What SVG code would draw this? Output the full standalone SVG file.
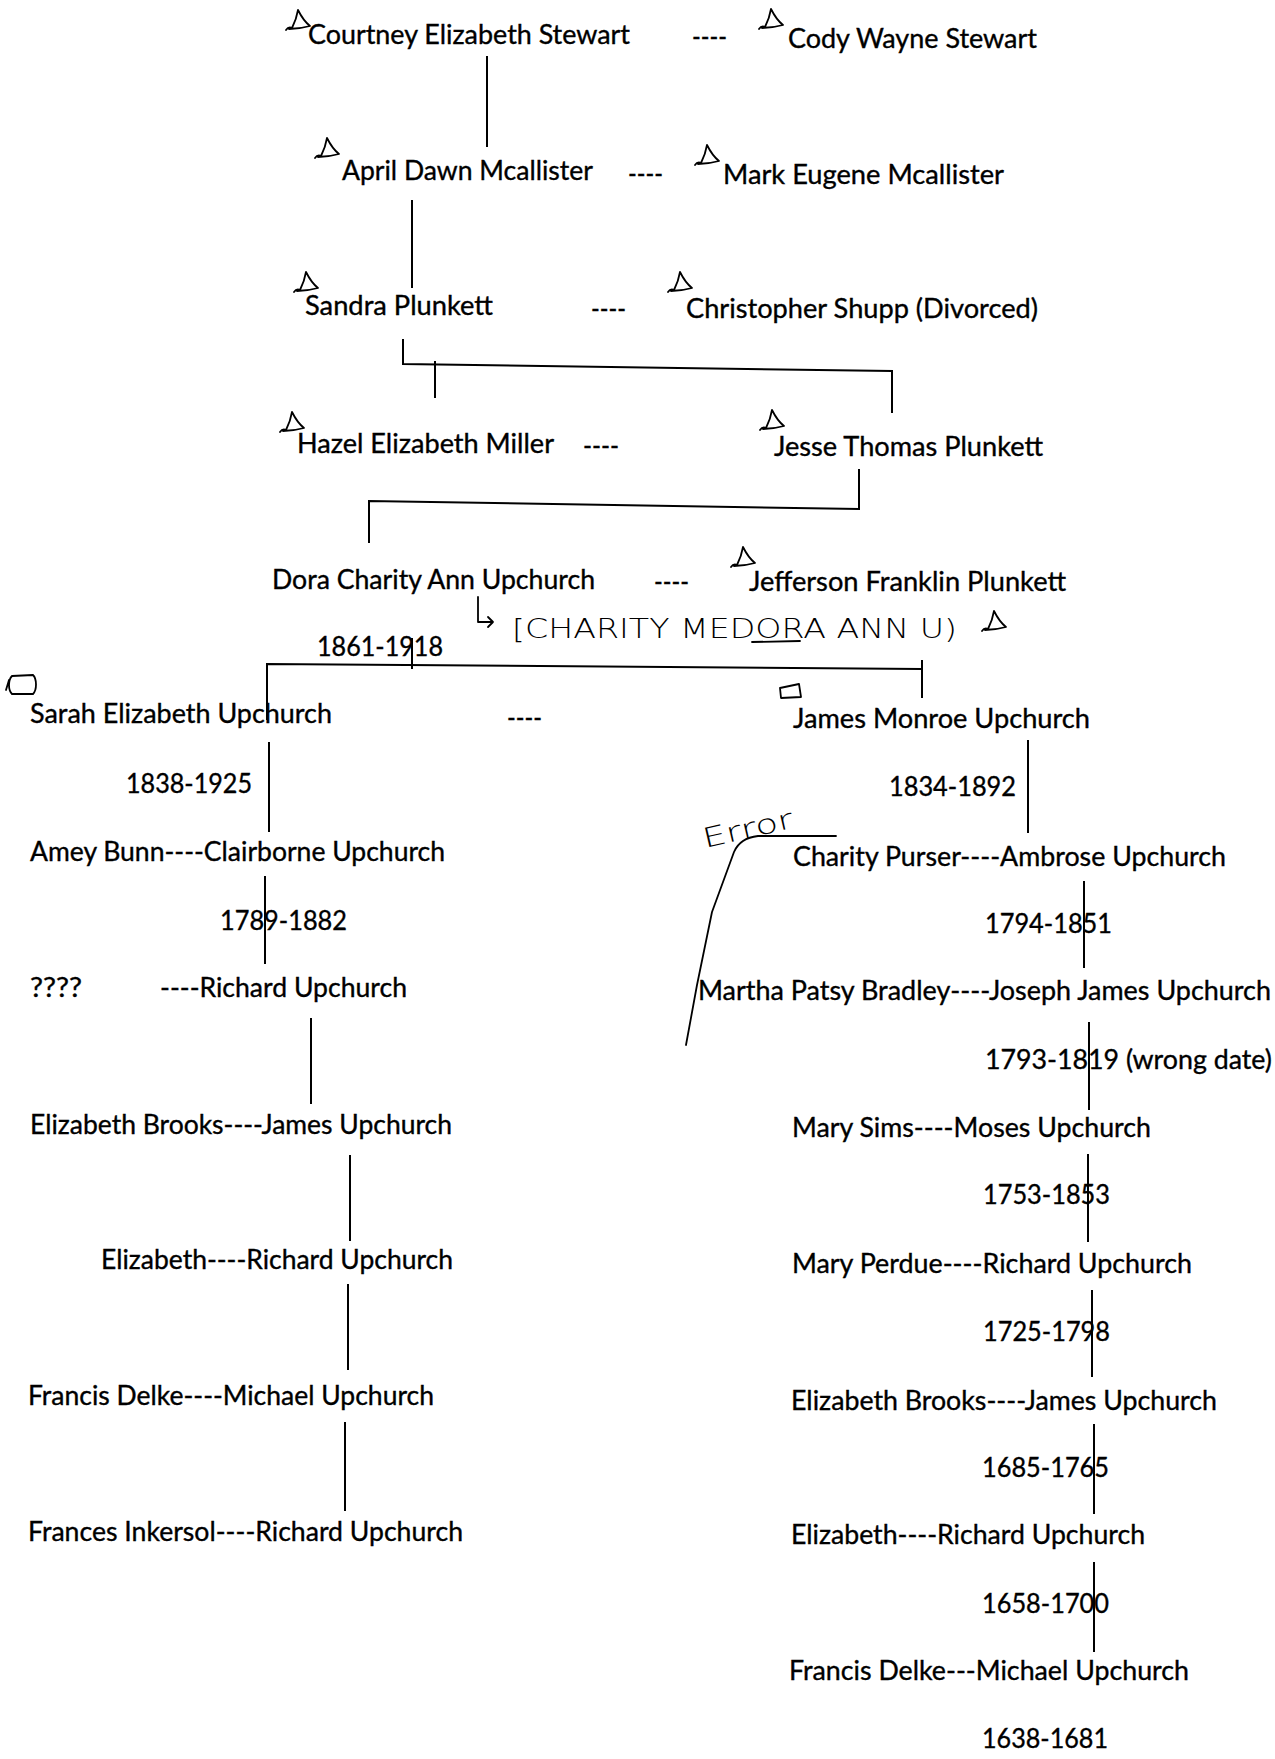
<svg xmlns="http://www.w3.org/2000/svg" width="1275" height="1759" viewBox="0 0 1275 1759">
<style>
text{font-family:Lato,"Open Sans","Liberation Sans",sans-serif;font-size:26px;fill:#000;stroke:#000;stroke-width:0.35}
.hw{font-family:"DejaVu Sans","Liberation Sans",sans-serif;font-weight:200;font-size:27px;stroke:none}
.ln{stroke:#000;stroke-width:2;fill:none}
.ink{stroke:#000;stroke-width:1.8;fill:none;stroke-linecap:round;stroke-linejoin:round}
</style>
<defs>
<path id="tri" class="ink" d="M0 20 C2 17 4 17 6 18 C9 12 11 6 12 0 C15 6 19 12 24 16 C17 18 10 19 3 19"/>
</defs>
<rect width="1275" height="1759" fill="#fff"/>

<g id="connectors">
<path class="ln" d="M487 56 V147"/>
<path class="ln" d="M412 200 V288"/>
<path class="ln" d="M403 339 V364 L892 371 V413"/>
<path class="ln" d="M435 361 V398"/>
<path class="ln" d="M859 469 V509 L369 501 V543"/>
<path class="ln" d="M267 720 V664 L922 669"/>
<path class="ln" d="M922 660 V698"/>
<path class="ln" d="M412 638 V669"/>
<path class="ln" d="M269 742 V832"/>
<path class="ln" d="M265 876 V964"/>
<path class="ln" d="M311 1018 V1104"/>
<path class="ln" d="M350 1155 V1241"/>
<path class="ln" d="M348 1284 V1370"/>
<path class="ln" d="M345 1422 V1511"/>
<path class="ln" d="M1028 740 V833"/>
<path class="ln" d="M1084 881 V968"/>
<path class="ln" d="M1089 1022 V1110"/>
<path class="ln" d="M1088 1154 V1242"/>
<path class="ln" d="M1092 1290 V1377"/>
<path class="ln" d="M1094 1424 V1514"/>
<path class="ln" d="M1094 1562 V1652"/>
</g>

<g id="annotations">
<use href="#tri" transform="translate(286,10)"/>
<use href="#tri" transform="translate(759,9)"/>
<use href="#tri" transform="translate(315,138)"/>
<use href="#tri" transform="translate(695,145)"/>
<use href="#tri" transform="translate(294,272)"/>
<use href="#tri" transform="translate(668,272)"/>
<use href="#tri" transform="translate(280,412)"/>
<use href="#tri" transform="translate(760,410)"/>
<use href="#tri" transform="translate(731,547)"/>
<use href="#tri" transform="translate(982,611)"/>
<path class="ink" d="M12 676 C8 680 8 690 12 694 L33 694 C37 690 37 679 33 675 Z M9 680 L6 690"/>
<path class="ink" d="M780 688 L799 684 L801 697 L781 698 Z"/>
<path class="ink" d="M478 597 L478 622 L493 622 M488 617 L493 622 L488 627"/>
<text class="hw" x="512" y="638" textLength="445" lengthAdjust="spacingAndGlyphs">[CHARITY MEDORA ANN U)</text>
<path class="ink" d="M752 642 L800 641"/>
<text class="hw" x="705" y="848" font-size="17" textLength="92" lengthAdjust="spacingAndGlyphs" transform="rotate(-13 705 848)">Error</text>
<path class="ink" d="M836 836 L758 836 Q740 838 734 852 L712 912 L697 985 L686 1045"/>
</g>

<g id="gen1">
<text x="308" y="44" textLength="322" lengthAdjust="spacingAndGlyphs">Courtney Elizabeth Stewart</text>
<text x="692" y="46" textLength="35" lengthAdjust="spacingAndGlyphs">----</text>
<text x="788" y="48" textLength="249" lengthAdjust="spacingAndGlyphs">Cody Wayne Stewart</text>
</g>
<g id="gen2">
<text x="342" y="180" textLength="251" lengthAdjust="spacingAndGlyphs">April Dawn Mcallister</text>
<text x="628" y="183" textLength="35" lengthAdjust="spacingAndGlyphs">----</text>
<text x="723" y="184" textLength="281" lengthAdjust="spacingAndGlyphs">Mark Eugene Mcallister</text>
</g>
<g id="gen3">
<text x="305" y="315" textLength="188" lengthAdjust="spacingAndGlyphs">Sandra Plunkett</text>
<text x="591" y="318" textLength="35" lengthAdjust="spacingAndGlyphs">----</text>
<text x="686" y="318" textLength="352" lengthAdjust="spacingAndGlyphs">Christopher Shupp (Divorced)</text>
</g>
<g id="gen4">
<text x="297" y="453" textLength="257" lengthAdjust="spacingAndGlyphs">Hazel Elizabeth Miller</text>
<text x="583" y="455" textLength="36" lengthAdjust="spacingAndGlyphs">----</text>
<text x="774" y="456" textLength="269" lengthAdjust="spacingAndGlyphs">Jesse Thomas Plunkett</text>
</g>
<g id="gen5">
<text x="272" y="589" textLength="323" lengthAdjust="spacingAndGlyphs">Dora Charity Ann Upchurch</text>
<text x="654" y="591" textLength="35" lengthAdjust="spacingAndGlyphs">----</text>
<text x="749" y="591" textLength="317" lengthAdjust="spacingAndGlyphs">Jefferson Franklin Plunkett</text>
<text x="317" y="656" textLength="126" lengthAdjust="spacingAndGlyphs">1861-1918</text>
</g>
<g id="gen6">
<text x="30" y="723" textLength="302" lengthAdjust="spacingAndGlyphs">Sarah Elizabeth Upchurch</text>
<text x="507" y="727" textLength="35" lengthAdjust="spacingAndGlyphs">----</text>
<text x="793" y="728" textLength="297" lengthAdjust="spacingAndGlyphs">James Monroe Upchurch</text>
</g>

<g id="left-line">
<text x="126" y="793" textLength="126" lengthAdjust="spacingAndGlyphs">1838-1925</text>
<text x="30" y="861" textLength="415" lengthAdjust="spacingAndGlyphs">Amey Bunn----Clairborne Upchurch</text>
<text x="220" y="930" textLength="127" lengthAdjust="spacingAndGlyphs">1789-1882</text>
<text x="30" y="997" textLength="52" lengthAdjust="spacingAndGlyphs">????</text>
<text x="160" y="997" textLength="247" lengthAdjust="spacingAndGlyphs">----Richard Upchurch</text>
<text x="30" y="1134" textLength="422" lengthAdjust="spacingAndGlyphs">Elizabeth Brooks----James Upchurch</text>
<text x="101" y="1269" textLength="352" lengthAdjust="spacingAndGlyphs">Elizabeth----Richard Upchurch</text>
<text x="28" y="1405" textLength="406" lengthAdjust="spacingAndGlyphs">Francis Delke----Michael Upchurch</text>
<text x="28" y="1541" textLength="435" lengthAdjust="spacingAndGlyphs">Frances Inkersol----Richard Upchurch</text>
</g>

<g id="right-line">
<text x="889" y="796" textLength="127" lengthAdjust="spacingAndGlyphs">1834-1892</text>
<text x="793" y="866" textLength="433" lengthAdjust="spacingAndGlyphs">Charity Purser----Ambrose Upchurch</text>
<text x="985" y="933" textLength="127" lengthAdjust="spacingAndGlyphs">1794-1851</text>
<text x="698" y="1000" textLength="573" lengthAdjust="spacingAndGlyphs">Martha Patsy Bradley----Joseph James Upchurch</text>
<text x="985" y="1069" textLength="287" lengthAdjust="spacingAndGlyphs">1793-1819 (wrong date)</text>
<text x="792" y="1137" textLength="359" lengthAdjust="spacingAndGlyphs">Mary Sims----Moses Upchurch</text>
<text x="983" y="1204" textLength="127" lengthAdjust="spacingAndGlyphs">1753-1853</text>
<text x="792" y="1273" textLength="400" lengthAdjust="spacingAndGlyphs">Mary Perdue----Richard Upchurch</text>
<text x="983" y="1341" textLength="127" lengthAdjust="spacingAndGlyphs">1725-1798</text>
<text x="791" y="1410" textLength="426" lengthAdjust="spacingAndGlyphs">Elizabeth Brooks----James Upchurch</text>
<text x="982" y="1477" textLength="127" lengthAdjust="spacingAndGlyphs">1685-1765</text>
<text x="791" y="1544" textLength="354" lengthAdjust="spacingAndGlyphs">Elizabeth----Richard Upchurch</text>
<text x="982" y="1613" textLength="127" lengthAdjust="spacingAndGlyphs">1658-1700</text>
<text x="789" y="1680" textLength="400" lengthAdjust="spacingAndGlyphs">Francis Delke---Michael Upchurch</text>
<text x="982" y="1748" textLength="126" lengthAdjust="spacingAndGlyphs">1638-1681</text>
</g>
</svg>
